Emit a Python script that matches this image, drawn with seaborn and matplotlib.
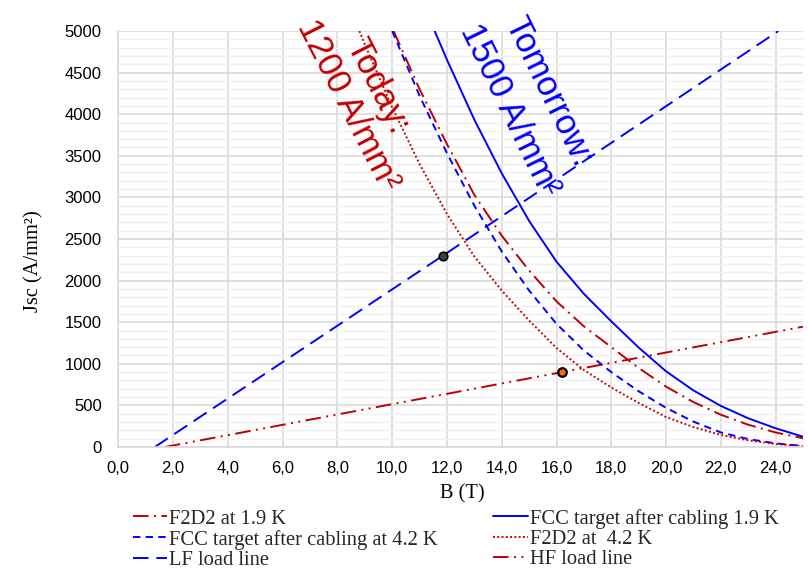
import matplotlib
matplotlib.use("Agg")
import matplotlib.pyplot as plt
import matplotlib.ticker as mticker
import seaborn as sns

# ── Data ────────────────────────────────────────────────────────────────────
b_fcc19 = [11.55, 12, 13, 14, 15, 16, 17, 18, 19, 20, 21, 22, 23, 24, 25]
j_fcc19 = [5000, 4654, 3933, 3289, 2717, 2227, 1840, 1510, 1195, 910, 680, 494, 345, 225, 124]

b_f2d2_19 = [10.05, 11, 12, 13, 14, 15, 16, 17, 18, 19, 20, 21, 22, 23, 24, 25]
j_f2d2_19 = [5000, 4300, 3640, 3030, 2540, 2120, 1750, 1450, 1200, 950, 725, 540, 388, 268, 175, 105]

b_fcc42 = [10.0, 11, 12, 13, 14, 15, 16, 17, 18, 19, 20, 21, 22, 23, 24, 25]
j_fcc42 = [5000, 4220, 3530, 2900, 2350, 1880, 1480, 1160, 900, 670, 470, 305, 175, 95, 44, 12]

b_f2d2_42 = [8.8, 9, 10, 11, 12, 13, 14, 15, 16, 17, 18, 19, 20, 21, 22, 23, 24, 25]
j_f2d2_42 = [5000, 4840, 4080, 3400, 2800, 2290, 1880, 1520, 1190, 925, 715, 530, 360, 240, 145, 80, 36, 10]

b_lf = [1.33, 11.85, 24.1]
j_lf = [0, 2300, 5000]

b_hf = [1.7, 16.2, 25.0]
j_hf = [0, 900, 1446]

b_lf_pt = [11.85]
j_lf_pt = [2300]
b_hf_pt = [16.2]
j_hf_pt = [900]

x_ticks = [0, 2, 4, 6, 8, 10, 12, 14, 16, 18, 20, 22, 24]

RED = "#C00000"
BLUE = "#0000FF"
LW = 1.4

# ── Style ───────────────────────────────────────────────────────────────────
sns.set_theme(style="white")
plt.rcParams["font.family"] = ["Liberation Sans", "DejaVu Sans"]

fig = plt.figure(figsize=(8.08, 5.69), dpi=100)
ax = fig.add_axes([0.1465, 0.2144, 0.8473, 0.7311])

series = [
    (b_f2d2_19, j_f2d2_19, RED, (0, (8, 2.8, 1, 2.8)), "F2D2 at 1.9 K"),
    (b_fcc42, j_fcc42, BLUE, (0, (3.8, 2.7)), "FCC target after cabling at 4.2 K"),
    (b_lf, j_lf, BLUE, (0, (8, 4)), "LF load line"),
    (b_fcc19, j_fcc19, BLUE, "-", "FCC target after cabling 1.9 K"),
    (b_f2d2_42, j_f2d2_42, "#D00000", (0, (1, 1.2)), "F2D2 at  4.2 K"),
    (b_hf, j_hf, RED, (0, (8, 2.8, 1, 2.8, 1, 2.8)), "HF load line"),
]
for bx, jy, col, ls, lab in series:
    sns.lineplot(x=bx, y=jy, ax=ax, color=col, linestyle=ls, linewidth=LW,
                 label=lab, legend=False, errorbar=None, sort=False)

sns.scatterplot(x=b_lf_pt, y=j_lf_pt, ax=ax, color="#2E4D2E", edgecolor="black",
                s=38, linewidth=1.2, zorder=5, legend=False)
sns.scatterplot(x=b_hf_pt, y=j_hf_pt, ax=ax, color="#FF6A00", edgecolor="black",
                s=38, linewidth=1.6, zorder=5, legend=False)

# ── Axes ────────────────────────────────────────────────────────────────────
ax.set_xlim(0, 25)
ax.set_ylim(0, 5000)
ax.set_xticks(x_ticks)
ax.xaxis.set_major_formatter(mticker.FuncFormatter(lambda v, _: f"{v:.1f}".replace(".", ",")))
ax.yaxis.set_major_locator(mticker.MultipleLocator(500))
ax.yaxis.set_minor_locator(mticker.MultipleLocator(100))
ax.grid(which="major", color="#d9d9d9", linewidth=1.2)
ax.grid(which="minor", axis="y", color="#f0f0f0", linewidth=1.0)
ax.set_axisbelow(True)
for side in ["top", "right"]:
    ax.spines[side].set_visible(False)
for side in ["left", "bottom"]:
    ax.spines[side].set_color("#d9d9d9")
    ax.spines[side].set_linewidth(1.2)
ax.tick_params(axis="both", which="both", length=0, labelsize=12, colors="black")
ax.tick_params(axis="x", pad=10)
ax.tick_params(axis="y", pad=12)

serif = ["Liberation Serif", "DejaVu Serif"]
ax.set_xlabel("B (T)", family=serif, fontsize=14.7, color="black")
ax.set_ylabel("Jsc (A/mm²)", family=serif, fontsize=14.7, color="black")
ax.xaxis.label.set_va("center")
ax.yaxis.label.set_va("center")
ax.xaxis.set_label_coords(0.503, -0.113)
ax.yaxis.set_label_coords(-0.124, 0.447)

# ── Annotations ─────────────────────────────────────────────────────────────
txt = dict(fontsize=25, ha="center", va="center", rotation_mode="anchor", clip_on=False)
ax.text(9.45, 4341, "Today:", color=RED, rotation=-63, **txt)
ax.text(8.40, 4108, "1200 A/mm²", color=RED, rotation=-63, **txt)
ax.text(15.70, 4273, "Tomorrow:", color=BLUE, rotation=-64, **txt)
ax.text(14.27, 4052, "1500 A/mm²", color=BLUE, rotation=-64, **txt)

# ── Legend ──────────────────────────────────────────────────────────────────
handles = [ln for ln in ax.get_lines() if not ln.get_label().startswith("_")]
labels = [ln.get_label() for ln in handles]
fig.legend(handles, labels, ncol=2, loc="upper left", bbox_to_anchor=(0.164, 0.106),
           frameon=False, prop={"family": serif, "size": 14.8}, handlelength=1.66,
           handletextpad=0.13, columnspacing=2.7, labelspacing=0.05, borderpad=0,
           borderaxespad=0)

fig.savefig("out.png", dpi=100)
